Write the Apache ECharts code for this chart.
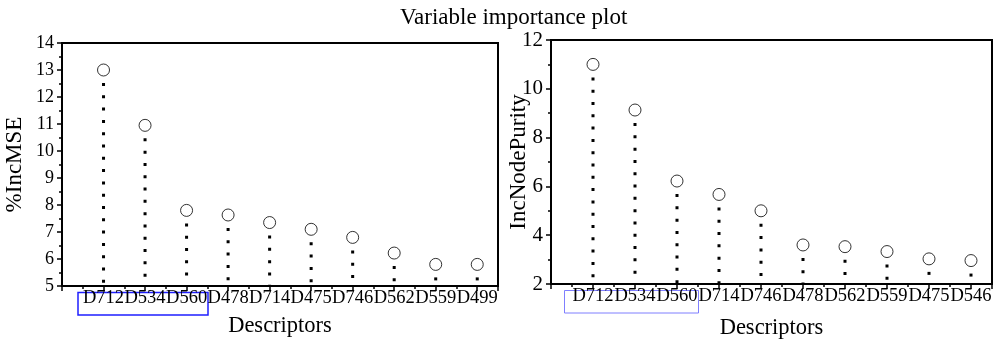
<!DOCTYPE html>
<html>
<head>
<meta charset="utf-8">
<script src="https://cdn.jsdelivr.net/npm/echarts@6/dist/echarts.min.js"></script>
<style>
html,body{margin:0;padding:0;background:#fff;}
#chart{width:1000px;height:346px;}
</style>
</head>
<body>
<div id="chart"></div>
<script>
const chartTitle = 'Variable importance plot';
const leftCategories = ['D712','D534','D560','D478','D714','D475','D746','D562','D559','D499'];
const leftValues = [13.0, 10.95, 7.8, 7.63, 7.35, 7.1, 6.8, 6.22, 5.8, 5.8];
const rightCategories = ['D712','D534','D560','D714','D746','D478','D562','D559','D475','D546'];
const rightValues = [11.0, 9.13, 6.22, 5.67, 5.0, 3.6, 3.53, 3.33, 3.03, 2.96];
const leftYAxisName = '%IncMSE';
const rightYAxisName = 'IncNodePurity';
const xAxisName = 'Descriptors';

const FONT = 'Liberation Serif';

function toPoints(vals){ return vals.map((v,i)=>[i+1, v]); }

function stemRender(params, api){
  const x = api.value(0), v = api.value(1);
  const yMin = params.coordSys.y + params.coordSys.height;
  const top = api.coord([x, v]);
  return {
    type: 'line',
    shape: {x1: top[0], y1: top[1] + 13, x2: top[0], y2: yMin},
    style: {stroke: '#000', lineWidth: 3, lineDash: [3, 9.3], lineCap: 'butt'}
  };
}

function xAxisFor(cats, gridIndex, gap){
  return {
    type: 'value', gridIndex: gridIndex, min: 0, max: 10.5, interval: 1,
    name: xAxisName, nameLocation: 'middle', nameGap: gap, nameMoveOverlap: false,
    nameTextStyle: {fontFamily: FONT, fontSize: 22.5, color: '#000'},
    axisLine: {show: true, lineStyle: {color: '#000', width: 2}},
    axisTick: {show: true, length: 5, lineStyle: {color: '#000', width: 1.5}},
    minorTick: {show: true, splitNumber: 2, length: 3, lineStyle: {color: '#000', width: 1.5}},
    splitLine: {show: false},
    axisLabel: {
      fontFamily: FONT, fontSize: 18.5, color: '#000', margin: 3,
      showMinLabel: true, showMaxLabel: true,
      formatter: function(v){ return (Number.isInteger(v) && v >= 1 && v <= cats.length) ? cats[v-1] : ''; }
    }
  };
}

function yAxisFor(name, min, max, interval, gridIndex, gap, labelSize){
  return {
    type: 'value', gridIndex: gridIndex, min: min, max: max, interval: interval,
    name: name, nameLocation: 'middle', nameGap: gap, nameRotate: 90, nameMoveOverlap: false,
    nameTextStyle: {fontFamily: FONT, fontSize: 23, color: '#000'},
    axisLine: {show: true, lineStyle: {color: '#000', width: 2}},
    axisTick: {show: true, length: 5, lineStyle: {color: '#000', width: 1.5}},
    minorTick: {show: true, splitNumber: 2, length: 3, lineStyle: {color: '#000', width: 1.5}},
    splitLine: {show: false},
    axisLabel: {fontFamily: FONT, fontSize: labelSize, color: '#000', margin: 8}
  };
}

const chart = echarts.init(document.getElementById('chart'), null, {renderer: 'canvas'});
chart.setOption({
  backgroundColor: '#fff',
  animation: false,
  title: {
    text: chartTitle, left: 395, top: 1,
    textStyle: {fontFamily: FONT, fontSize: 23, fontWeight: 'normal', color: '#000'}
  },
  grid: [
    {left: 62, top: 43, width: 436, height: 243, show: true, borderColor: '#000', borderWidth: 2, backgroundColor: 'transparent'},
    {left: 551, top: 40, width: 441, height: 244, show: true, borderColor: '#000', borderWidth: 2, backgroundColor: 'transparent'}
  ],
  xAxis: [xAxisFor(leftCategories, 0, 29), xAxisFor(rightCategories, 1, 33)],
  yAxis: [
    yAxisFor(leftYAxisName, 5, 14, 1, 0, 36, 18),
    yAxisFor(rightYAxisName, 2, 12, 2, 1, 21, 21)
  ],
  series: [
    {type: 'custom', xAxisIndex: 0, yAxisIndex: 0, renderItem: stemRender, data: toPoints(leftValues), silent: true},
    {type: 'scatter', xAxisIndex: 0, yAxisIndex: 0, data: toPoints(leftValues), symbol: 'circle', symbolSize: 12,
      itemStyle: {color: '#fff', borderColor: '#000', borderWidth: 1}},
    {type: 'custom', xAxisIndex: 1, yAxisIndex: 1, renderItem: stemRender, data: toPoints(rightValues), silent: true},
    {type: 'scatter', xAxisIndex: 1, yAxisIndex: 1, data: toPoints(rightValues), symbol: 'circle', symbolSize: 12,
      itemStyle: {color: '#fff', borderColor: '#000', borderWidth: 1}}
  ],
  graphic: [
    {type: 'rect', shape: {x: 78, y: 292.5, width: 130, height: 22.5}, style: {fill: 'none', stroke: '#1f1fff', lineWidth: 1.5}},
    {type: 'rect', shape: {x: 564.5, y: 290.5, width: 134, height: 22.5}, style: {fill: 'none', stroke: '#7f7fff', lineWidth: 1}}
  ]
});
</script>
</body>
</html>
